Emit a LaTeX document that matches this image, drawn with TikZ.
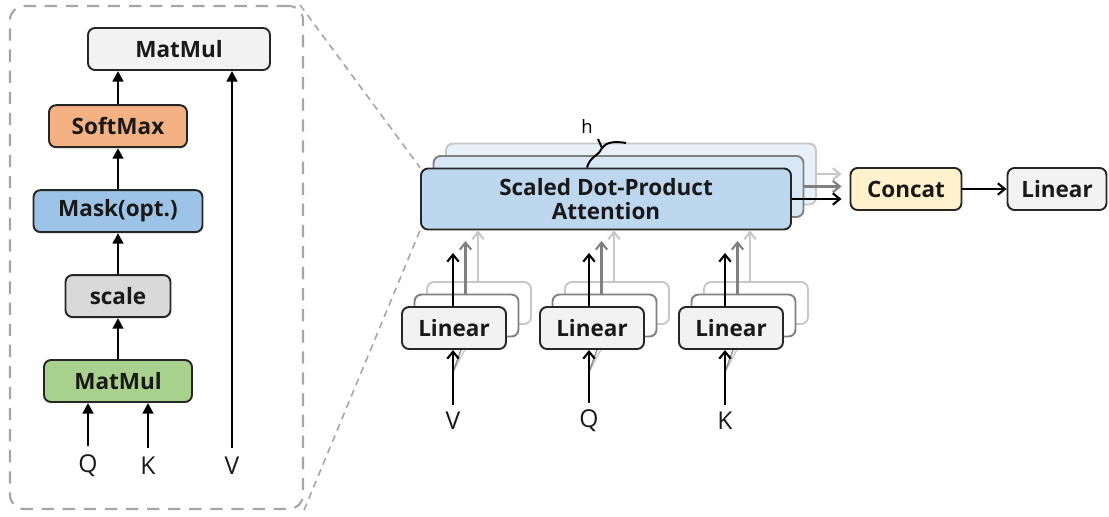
\documentclass[tikz,border=0pt]{standalone}
\usepackage{fontspec}
\setmainfont{Open Sans}
\usetikzlibrary{
arrows.meta,
chains,
scopes,
positioning
}
\definecolor{mmgreen}{HTML}{A9D18E}
\definecolor{smorange}{HTML}{F4B183}
\definecolor{maskblue}{HTML}{9DC3E6}
\definecolor{scalegray}{HTML}{D9D9D9}
\definecolor{lingray}{HTML}{F2F2F2}
\definecolor{attblue}{HTML}{BDD7EE}
\definecolor{catyellow}{HTML}{FFF2CC}

\begin{document}
\begin{tikzpicture}[
    >={Triangle[width=6pt,length=6pt]},
    every join/.style={->, line width=1.6pt},
    base/.style={draw=black!85, line width=1.1pt, rounded corners=4pt, minimum height=0.84cm,
      inner sep=2pt, text=black!90, font=\fontsize{12.8}{15}\selectfont\bfseries},
    proc/.style={base, on chain, join},
    ghost/.style={base, draw=black!50, fill=white},
    faint/.style={base, draw=black!22, fill=white},
    lbl/.style={inner sep=1pt, text=black!90, font=\fontsize{14}{16}\selectfont},
    barb/.style={-{Straight Barb[length=4pt,width=6.5pt]}, line width=1.2pt},
    up/.style={->, line width=1.6pt},
    zoomline/.style={draw=black!35, line width=0.9pt, dash pattern=on 4pt off 3pt}]

  \useasboundingbox (0,0) rectangle (22.18,10.32);

  % zoomed-in attention block
  \node[draw=black!35, line width=1.2pt, dash pattern=on 7pt off 5pt, rounded corners=8pt,
    minimum width=5.86cm, minimum height=10.06cm] (frame) at (3.13,5.17) {};
  { [start chain=stack going above, node distance=0.82cm]
    \node[proc, fill=mmgreen, minimum width=2.96cm] (mm1) at (2.36,2.70) {MatMul};
    \node[proc, fill=scalegray, minimum width=2.1cm] (scale) {scale};
    \node[proc, fill=maskblue, minimum width=3.38cm] (mask) {Mask(opt.)};
    \node[proc, fill=smorange, minimum width=2.76cm] (softmax) {SoftMax};
  }
  \node[base, fill=lingray, minimum width=3.64cm] (mm2) at (3.58,9.34) {MatMul};
  \draw[up] (softmax) -- (softmax |- mm2.south);
  \node[lbl] (q) at (1.76,1.0) {Q};
  \node[lbl] (k) at (2.96,1.0) {K};
  \node[lbl] (v) at (4.64,1.0) {V};
  \draw[up, shorten <=4pt] (q) -- (q |- mm1.south);
  \draw[up, shorten <=4pt] (k) -- (k |- mm1.south);
  \draw[up, shorten <=4pt] (v) -- (v |- mm2.south);

  % multi-head part
  \node[base, draw=black!22, fill=attblue!35, minimum width=7.4cm, minimum height=1.22cm] (att2) at (12.62,6.84) {};
  \node[base, draw=black!50, fill=attblue!60, minimum width=7.4cm, minimum height=1.22cm] (att1) at (12.37,6.59) {};
  \node[base, fill=attblue, minimum width=7.4cm, minimum height=1.22cm, align=center] (att) at (12.12,6.34)
    {Scaled Dot-Product\\[-1pt]Attention};
  \draw[zoomline] ([xshift=-0.08cm]frame.north east) -- (att.north west);
  \draw[zoomline] (frame.south east) -- (att.south west);

  \node[font=\fontsize{10.5}{12}\selectfont] (h) at (11.74,7.8) {h};
  \coordinate (hcusp) at (12.04,7.36);
  \draw[line width=1.1pt] ([xshift=-0.38cm]att.north) .. controls (11.8,7.2) and (12.0,7.22) .. (hcusp)
    .. controls (12.12,7.48) and (12.3,7.5) .. (12.52,7.46);
  \draw[line width=1.1pt] (hcusp) -- (11.96,7.54);

  \node[base, fill=catyellow, minimum width=2.22cm] (concat) at (18.12,6.54) {Concat};
  \node[base, fill=lingray, minimum width=1.98cm] (linout) at (21.14,6.54) {Linear};
  \draw[barb, black!22, shorten >=0.16cm] (att2.east) -- (att2.east -| concat.west);
  \draw[barb, black!50, shorten >=0.16cm] (att1.east) -- (att1.east -| concat.west);
  \draw[barb, shorten >=0.16cm] (att.east) -- (att.east -| concat.west);
  \draw[barb] (concat) -- (linout);

  \foreach \n/\bx/\ax/\t in {v/9.08/9.06/V, q/11.84/11.78/Q, k/14.62/14.5/K} {
    \node[faint, minimum width=2.08cm] (lin\n2) at (\bx+0.5,4.26) {};
    \node[ghost, minimum width=2.08cm] (lin\n1) at (\bx+0.25,4.01) {};
    \node[lbl] (in\n) at (\ax,1.9) {\t};
    \coordinate (fan\n) at (\ax,2.88);
    \draw[black!22, line width=0.8pt] (fan\n) -- ([xshift=0.5cm]fan\n |- lin\n2.south);
    \draw[black!45, line width=0.8pt] (fan\n) -- ([xshift=0.25cm]fan\n |- lin\n1.south);
    \draw[barb, black!22] ([xshift=0.5cm]in\n |- lin\n2.north) -- ([xshift=0.5cm]in\n |- att.south);
    \draw[barb, black!50, shorten >=0.21cm] ([xshift=0.25cm]in\n |- lin\n1.north) -- ([xshift=0.25cm]in\n |- att.south);
    \node[base, fill=lingray, minimum width=2.08cm] (lin\n) at (\bx,3.76) {Linear};
    \draw[barb, shorten <=3pt] (in\n) -- (in\n |- lin\n.south);
    \draw[barb, shorten >=0.45cm] (in\n |- lin\n.north) -- (in\n |- att.south);
  }
\end{tikzpicture}
\end{document}
